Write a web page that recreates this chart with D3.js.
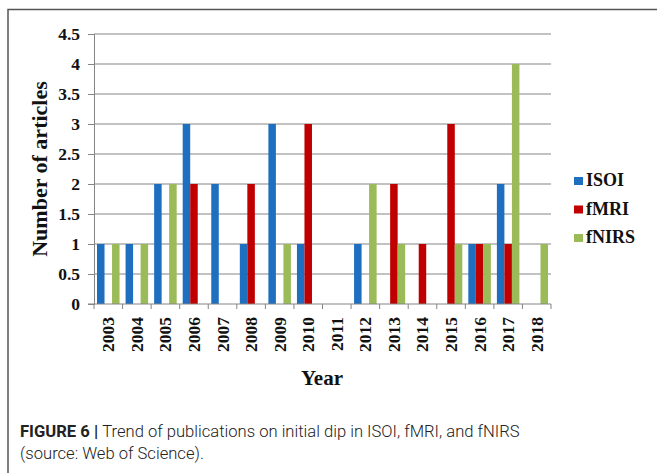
<!DOCTYPE html>
<html>
<head>
<meta charset="utf-8">
<script src="https://cdn.jsdelivr.net/npm/d3@7"></script>
<style>
  html, body { margin: 0; padding: 0; background: #fff; }
  svg { display: block; }
</style>
</head>
<body>
<svg id="chart" width="657" height="473"></svg>
<script>
// Publications per year on the initial dip, by imaging modality
const years = ["2003","2004","2005","2006","2007","2008","2009","2010","2011","2012","2013","2014","2015","2016","2017","2018"];
const seriesNames = ["ISOI", "fMRI", "fNIRS"];
const isoi  = [1, 1, 2, 3, 2, 1, 3, 1, 0, 1, 0, 0, 0, 1, 2, 0];
const fmri  = [0, 0, 0, 2, 0, 2, 0, 3, 0, 0, 2, 1, 3, 1, 1, 0];
const fnirs = [1, 1, 2, 0, 0, 0, 1, 0, 0, 2, 1, 0, 1, 1, 4, 1];
const yTicks = [0, 0.5, 1, 1.5, 2, 2.5, 3, 3.5, 4, 4.5];
const colors = ["#1f6fc1", "#c00000", "#9bbb59"];

const seriesValues = [isoi, fmri, fnirs];
const rows = years.map((y, i) => ({
  year: y,
  values: seriesNames.map((s, k) => ({ key: s, value: seriesValues[k][i] }))
}));

const svg = d3.select("#chart");
const serif = "'Liberation Serif', 'Times New Roman', serif";

// Outer figure frame
svg.append("path")
  .attr("d", "M8,473 L8,9.5 L657,9.5")
  .attr("fill", "none")
  .attr("stroke", "#555")
  .attr("stroke-width", 1.5);

const plot = { left: 94, right: 551, top: 34, bottom: 304 };

const x = d3.scaleBand().domain(years).range([plot.left, plot.right]).paddingInner(0).paddingOuter(0);
const x1 = d3.scaleBand().domain(seriesNames).range([0, x.bandwidth()]).paddingInner(0).paddingOuter(0.4);
const y = d3.scaleLinear().domain([0, 4.5]).range([plot.bottom, plot.top]);

// Horizontal gridlines
svg.append("g")
  .selectAll("line")
  .data(yTicks.filter(t => t > 0))
  .join("line")
  .attr("x1", plot.left).attr("x2", plot.right)
  .attr("y1", d => y(d)).attr("y2", d => y(d))
  .attr("stroke", "#858585")
  .attr("stroke-width", 1);

// Bars
svg.append("g")
  .selectAll("g")
  .data(rows)
  .join("g")
  .attr("transform", d => `translate(${x(d.year)},0)`)
  .selectAll("rect")
  .data(d => d.values.filter(v => v.value > 0))
  .join("rect")
  .attr("x", d => x1(d.key))
  .attr("width", x1.bandwidth())
  .attr("y", d => y(d.value))
  .attr("height", d => y(0) - y(d.value))
  .attr("fill", d => colors[seriesNames.indexOf(d.key)]);

// Y axis
const yAxis = svg.append("g")
  .attr("transform", `translate(${plot.left},0)`)
  .call(d3.axisLeft(y).tickValues(yTicks).tickSize(6).tickPadding(8)
    .tickFormat(d => String(d)));
yAxis.select(".domain").attr("stroke", "#858585");
yAxis.selectAll(".tick line").attr("stroke", "#858585");
yAxis.selectAll(".tick text")
  .attr("font-family", serif)
  .attr("font-weight", "bold")
  .attr("font-size", 17.5)
  .attr("fill", "#111");

// X axis with tick marks on category boundaries
const xAxisG = svg.append("g").attr("transform", `translate(0,${plot.bottom})`);
xAxisG.append("line")
  .attr("x1", plot.left - 6).attr("x2", plot.right)
  .attr("stroke", "#858585");
xAxisG.selectAll("line.sep")
  .data(years.map(yr => x(yr)).concat([plot.right]))
  .join("line")
  .attr("class", "sep")
  .attr("x1", d => d).attr("x2", d => d)
  .attr("y1", 0).attr("y2", 5)
  .attr("stroke", "#858585");
xAxisG.selectAll("text")
  .data(years)
  .join("text")
  .attr("transform", d => `translate(${x(d) + x.bandwidth() / 2 + 6},13) rotate(-90)`)
  .attr("text-anchor", "end")
  .attr("font-family", serif)
  .attr("font-weight", "bold")
  .attr("font-size", 17.5)
  .attr("fill", "#111")
  .text(d => d);

// Axis titles
svg.append("text")
  .attr("transform", `translate(47,${(plot.top + plot.bottom) / 2}) rotate(-90)`)
  .attr("text-anchor", "middle")
  .attr("font-family", serif)
  .attr("font-weight", "bold")
  .attr("font-size", 22)
  .attr("fill", "#111")
  .text("Number of articles");

svg.append("text")
  .attr("x", 322)
  .attr("y", 385)
  .attr("text-anchor", "middle")
  .attr("font-family", serif)
  .attr("font-weight", "bold")
  .attr("font-size", 21)
  .attr("fill", "#111")
  .text("Year");

// Legend
const legend = svg.append("g").attr("transform", "translate(574,181)");
const li = legend.selectAll("g")
  .data(seriesNames)
  .join("g")
  .attr("transform", (d, i) => `translate(0,${i * 28.5})`);
li.append("rect")
  .attr("x", 0).attr("y", -4)
  .attr("width", 9).attr("height", 8)
  .attr("fill", (d, i) => colors[i]);
li.append("text")
  .attr("x", 12).attr("y", 5)
  .attr("font-family", serif)
  .attr("font-weight", "bold")
  .attr("font-size", 18)
  .attr("fill", "#111")
  .text(d => d);

// Caption
const cap = svg.append("g")
  .attr("font-family", "Roboto, 'Liberation Sans', Arial, sans-serif")
  .attr("font-size", 16.6)
  .attr("fill", "#222");
const line1 = cap.append("text").attr("x", 20).attr("y", 437);
line1.append("tspan").attr("font-weight", "bold").text("FIGURE 6 | ");
line1.append("tspan").attr("font-weight", 300).text("Trend of publications on initial dip in ISOI, fMRI, and fNIRS");
cap.append("text").attr("x", 20).attr("y", 459)
  .attr("font-weight", 300)
  .text("(source: Web of Science).");
</script>
</body>
</html>
